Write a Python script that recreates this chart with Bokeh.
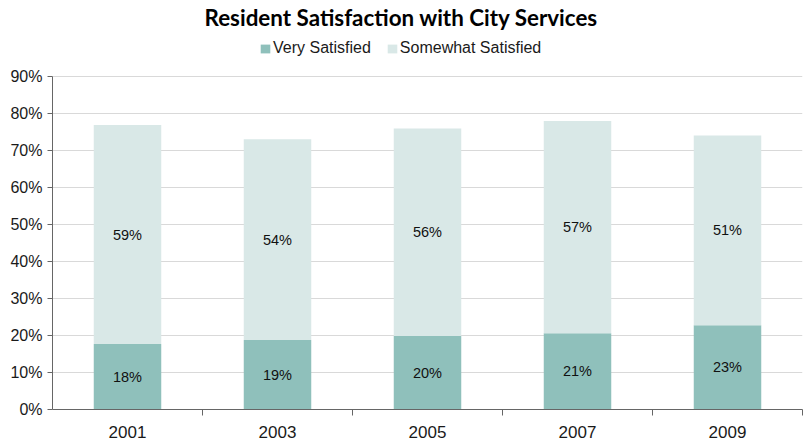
from bokeh.plotting import figure
from bokeh.models import (ColumnDataSource, FixedTicker, PrintfTickFormatter,
                          Legend, LegendItem, Range1d)
from bokeh.core.properties import value
from bokeh.embed import file_html
from bokeh.resources import INLINE

years = ["2001", "2003", "2005", "2007", "2009"]
very_satisfied = [17.7, 18.8, 19.9, 20.6, 22.8]
somewhat_satisfied = [59.2, 54.3, 56.1, 57.4, 51.3]
y_ticks = [0, 10, 20, 30, 40, 50, 60, 70, 80, 90]

VERY_COLOR = "#8fc0bb"
SOME_COLOR = "#d9e8e7"

xs = [i + 0.5 for i in range(len(years))]
totals = [v + s for v, s in zip(very_satisfied, somewhat_satisfied)]
src = ColumnDataSource(dict(
    x=xs,
    very=very_satisfied,
    some=somewhat_satisfied,
    total=totals,
    very_mid=[v / 2 for v in very_satisfied],
    some_mid=[v + s / 2 for v, s in zip(very_satisfied, somewhat_satisfied)],
    very_lab=[f"{round(v)}%" for v in very_satisfied],
    some_lab=[f"{round(s)}%" for s in somewhat_satisfied],
))

p = figure(width=803, height=440, x_range=Range1d(0, len(years)),
           y_range=Range1d(0, 102.2), output_backend="svg", toolbar_location=None,
           min_border_left=52, min_border_right=1, min_border_top=0,
           min_border_bottom=0)

p.title.text = "Resident Satisfaction with City Services"
p.title.align = "left"
p.title.offset = 152
p.title.text_font = "Lato"
p.title.text_font_style = "bold"
p.title.text_font_size = "22.4px"
p.title.text_color = "#000000"
p.title.standoff = 2

r1 = p.vbar(x="x", bottom=0, top="very", width=0.45, source=src,
            fill_color=VERY_COLOR, line_color=None)
r2 = p.vbar(x="x", bottom="very", top="total", width=0.45, source=src,
            fill_color=SOME_COLOR, line_color=None)

for ycol, tcol in (("very_mid", "very_lab"), ("some_mid", "some_lab")):
    p.text(x="x", y=ycol, text=tcol, source=src, text_align="center",
           text_baseline="middle", text_font=value("Liberation Sans"),
           text_font_size="14.5px", text_color="#111111")

legend = Legend(items=[LegendItem(label="Very Satisfied", renderers=[r1]),
                       LegendItem(label="Somewhat Satisfied", renderers=[r2])],
                orientation="horizontal", location=(207, 352),
                border_line_color=None, background_fill_alpha=0,
                glyph_width=12, glyph_height=11, label_standoff=2,
                spacing=15, padding=0, margin=0,
                label_text_font="Liberation Sans",
                label_text_font_size="16px", label_text_color="#1a1a1a")
p.add_layout(legend, "center")

p.xaxis.ticker = FixedTicker(ticks=xs, minor_ticks=[1, 2, 3, 4, 5])
p.xaxis.major_label_overrides = {x: y for x, y in zip(xs, years)}
p.xaxis.major_tick_line_color = None
p.xaxis.major_tick_out = 0
p.xaxis.minor_tick_out = 6
p.xaxis.minor_tick_in = 0
p.xaxis.minor_tick_line_color = "#666666"
p.xaxis.major_label_standoff = 10
p.xaxis.major_label_text_font = "Liberation Sans"
p.xaxis.major_label_text_font_size = "17px"
p.xaxis.major_label_text_color = "#1a1a1a"
p.xaxis.axis_line_color = "#666666"

p.yaxis.ticker = FixedTicker(ticks=y_ticks, minor_ticks=[])
p.yaxis.bounds = (y_ticks[0], y_ticks[-1])
p.yaxis.formatter = PrintfTickFormatter(format="%d%%")
p.yaxis.major_tick_out = 5
p.yaxis.major_tick_in = 0
p.yaxis.major_tick_line_color = "#666666"
p.yaxis.minor_tick_line_color = None
p.yaxis.major_label_standoff = 5
p.yaxis.major_label_text_font = "Liberation Sans"
p.yaxis.major_label_text_font_size = "16px"
p.yaxis.major_label_text_color = "#1a1a1a"
p.yaxis.axis_line_color = "#666666"

p.xgrid.grid_line_color = None
p.ygrid.ticker = FixedTicker(ticks=y_ticks, minor_ticks=[])
p.ygrid.grid_line_color = "#d9d9d9"
p.outline_line_color = None

open("out.html", "w").write(file_html(p, INLINE))
